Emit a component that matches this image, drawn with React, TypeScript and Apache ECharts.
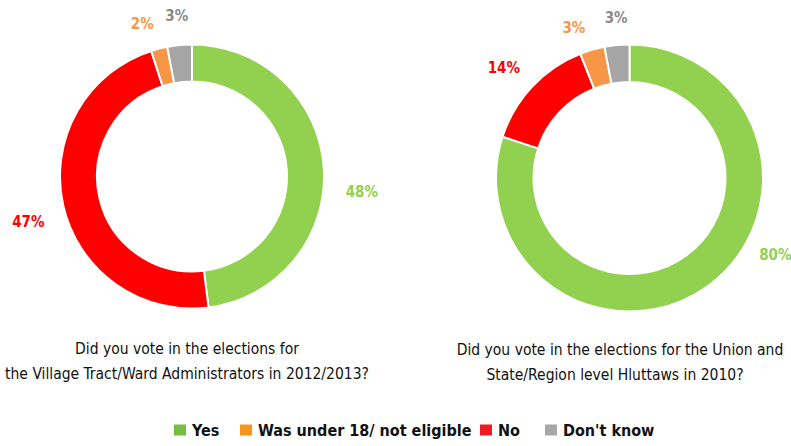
import React, { useEffect, useRef } from "react";
import * as echarts from "echarts";

const categories = ["Yes", "No", "Was under 18/ not eligible", "Don't know"];
const villageValues = [48, 47, 2, 3];
const unionValues = [80, 14, 3, 3];
const legendOrder = ["Yes", "Was under 18/ not eligible", "No", "Don't know"];
const title1Lines = ["Did you vote in the elections for", "the Village Tract/Ward Administrators in 2012/2013?"];
const title2Lines = ["Did you vote in the elections for the Union and", "State/Region level Hluttaws in 2010?"];

const sliceColors: Record<string, string> = {
  Yes: "#92D050",
  No: "#FF0000",
  "Was under 18/ not eligible": "#F79646",
  "Don't know": "#A5A5A5",
};
const labelColors: Record<string, string> = {
  Yes: "#92D050",
  No: "#FF0000",
  "Was under 18/ not eligible": "#F79646",
  "Don't know": "#8A8A8A",
};
const legendColors: Record<string, string> = {
  Yes: "#76BE43",
  No: "#ED1C24",
  "Was under 18/ not eligible": "#F7941D",
  "Don't know": "#A7A7A7",
};

// label nudges (style only), per series, per slice
const labelNudges: [number, number][][] = [
  [[3, 25], [0, 14], [3, -11], [15, -15]],
  [[38, -42], [3, -9], [2, -8], [17, -13]],
];

const FONT = "'Liberation Sans Narrow', 'DejaVu Sans Condensed', 'Roboto Condensed', sans-serif";

function pieSeries(values: number[], center: [number, number], radius: [number, number], s: number) {
  return {
    type: "pie",
    center,
    radius,
    startAngle: 90,
    clockwise: true,
    avoidLabelOverlap: false,
    itemStyle: { borderColor: "#ffffff", borderWidth: 2 },
    label: {
      show: true,
      position: "outside",
      formatter: "{c}%",
      fontFamily: FONT,
      fontWeight: "bold",
      fontSize: 15,
    },
    labelLine: { show: false, length: 14, length2: 0 },
    labelLayout: (p: any) => {
      const n = labelNudges[s][p.dataIndex] || [0, 0];
      return { dx: n[0], dy: n[1], hideOverlap: false };
    },
    data: categories.map((name, i) => ({
      name,
      value: values[i],
      itemStyle: { color: sliceColors[name] },
      label: { color: labelColors[name] },
    })),
  };
}

const legendLefts = [172, 238, 478, 543];

export default function App() {
  const ref = useRef<HTMLDivElement>(null);
  useEffect(() => {
    if (!ref.current) return;
    const chart = echarts.init(ref.current, undefined, { renderer: "svg" });
    const titleStyle = { fontFamily: FONT, fontSize: 15.5, fontWeight: "normal", color: "#111111" };
    chart.setOption({
      animation: false,
      backgroundColor: "#ffffff",
      title: [
        { text: title1Lines[0], left: 187, top: 341, textAlign: "center", textStyle: titleStyle, padding: 0 },
        { text: title1Lines[1], left: 187, top: 366, textAlign: "center", textStyle: titleStyle, padding: 0 },
        { text: title2Lines[0], left: 620, top: 342, textAlign: "center", textStyle: titleStyle, padding: 0 },
        { text: title2Lines[1], left: 615, top: 367, textAlign: "center", textStyle: titleStyle, padding: 0 },
      ],
      legend: legendOrder.map((name, i) => ({
        left: legendLefts[i],
        top: 422,
        padding: 0,
        icon: "rect",
        itemWidth: 14,
        itemHeight: 13,
        itemGap: 5,
        selectedMode: false,
        textStyle: { fontFamily: FONT, fontSize: 16, fontWeight: "bold", color: "#111111" },
        data: [{ name, itemStyle: { color: legendColors[name] } }],
      })),
      series: [
        pieSeries(villageValues, [192, 176.5], [95, 132], 0),
        pieSeries(unionValues, [629.5, 178], [96, 133.5], 1),
      ],
    });
    return () => chart.dispose();
  }, []);
  return <div ref={ref} style={{ width: 791, height: 446, position: "absolute", left: 0, top: 0 }} />;
}
